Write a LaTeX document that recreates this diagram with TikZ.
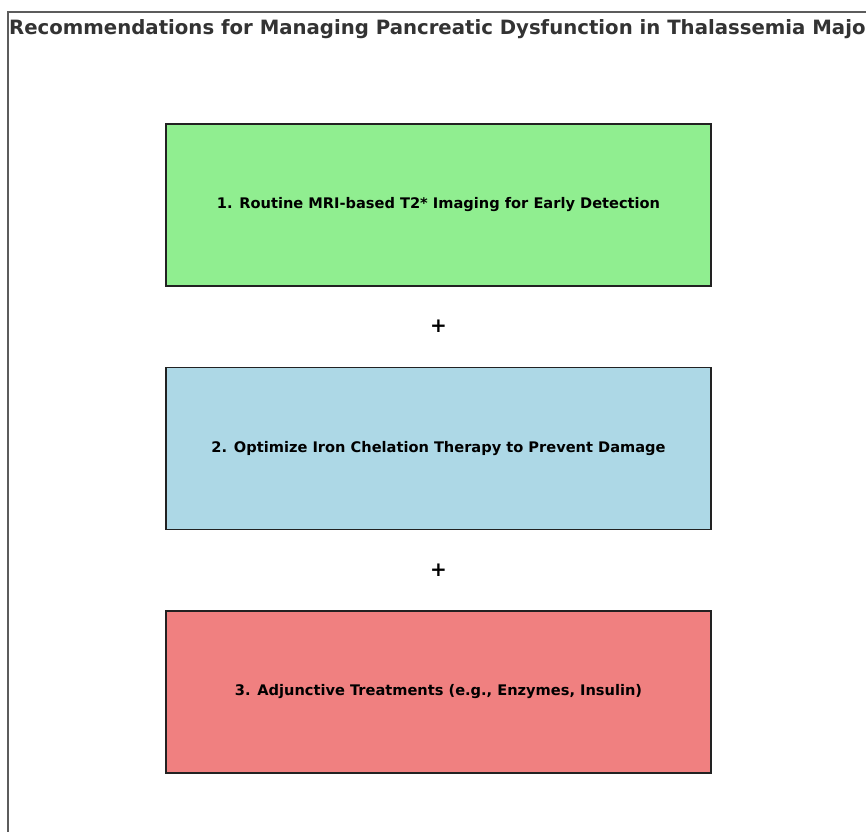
\documentclass[tikz,border=0pt]{standalone}
\usepackage{fontspec}
\setmainfont{DejaVu Sans}
\definecolor{lgreen}{HTML}{90EE90}
\definecolor{lblue}{HTML}{ADD8E6}
\definecolor{lcoral}{HTML}{F08080}
\definecolor{titlegray}{HTML}{333333}
\definecolor{edgegray}{HTML}{222222}
\begin{document}
\begin{tikzpicture}[x=1pt,y=1pt,
  stepbox/.style={draw=edgegray,line width=1.8pt,minimum width=545pt,minimum height=162pt,inner sep=0pt,font=\bfseries\fontsize{14.6}{17}\selectfont,text=black},
  plus/.style={font=\bfseries\fontsize{20}{22}\selectfont,text=black,inner sep=0pt}]
\useasboundingbox (0,0) rectangle (866,831);
\begin{scope}
\clip (0,0) rectangle (866,831);
\draw[line width=1.3pt,draw=titlegray!80] (8,-20) rectangle (890,819);
\node[anchor=base west,font=\bfseries\fontsize{19.7}{22}\selectfont,text=titlegray,inner sep=0pt] (title) at (9,796) {Recommendations for Managing Pancreatic Dysfunction in Thalassemia Major};
\end{scope}
\node[stepbox,fill=lgreen] (b1) at (438.5,626) {1. Routine MRI-based T2* Imaging for Early Detection};
\node[plus] (p1) at (438.5,505) {+};
\node[stepbox,fill=lblue] (b2) at (438.5,382.5) {2. Optimize Iron Chelation Therapy to Prevent Damage};
\node[plus] (p2) at (438.5,261) {+};
\node[stepbox,fill=lcoral] (b3) at (438.5,139) {3. Adjunctive Treatments (e.g., Enzymes, Insulin)};
\end{tikzpicture}
\end{document}
